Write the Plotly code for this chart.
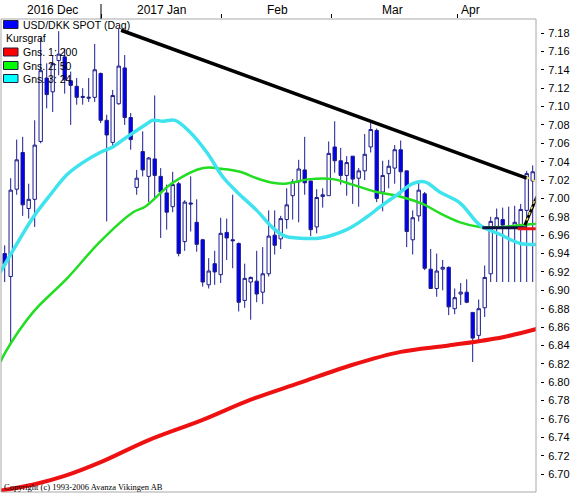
import plotly.graph_objects as go

# ---------------- data ----------------
idx = list(range(89))
opens = [6.940, 6.915, 7.010, 7.050, 6.989, 6.999, 7.062, 7.131, 7.116, 7.150,
         7.154, 7.128, 7.122, 7.111, 7.109, 7.110, 7.136, 7.085, 7.061, 7.103,
         7.142, 7.088, 7.012, 7.051, 7.024, 7.043, 7.024, 7.006, 6.991, 7.016,
         6.953, 6.995, 6.974, 6.955, 6.906, 6.929, 6.917, 6.963, 6.955, 6.951,
         6.889, 6.909, 6.910, 6.898, 6.918, 6.960, 6.956, 6.977, 7.003, 7.018,
         7.031, 7.019, 6.969, 7.002, 7.003, 7.056, 7.041, 7.025, 7.046, 7.022,
         7.030, 7.056, 7.074, 7.007, 7.027, 7.033, 7.053, 7.030, 6.955, 6.981,
         7.005, 6.923, 6.902, 6.923, 6.925, 6.880, 6.896, 6.898, 6.876, 6.851,
         6.881, 6.918, 6.969, 6.977, 6.970, 6.969, 6.969, 6.987, 7.019]
highs = [6.949, 7.022, 7.064, 7.067, 7.016, 7.085, 7.175, 7.147, 7.156, 7.182,
         7.163, 7.138, 7.131, 7.120, 7.131, 7.168, 7.137, 7.091, 7.118, 7.185,
         7.156, 7.093, 7.031, 7.073, 7.045, 7.112, 7.033, 7.015, 7.029, 7.018,
         6.998, 7.024, 6.999, 6.956, 6.935, 6.943, 6.979, 6.978, 7.004, 6.952,
         6.929, 6.915, 6.943, 6.947, 6.987, 6.987, 6.981, 7.011, 7.021, 7.042,
         7.067, 7.019, 7.010, 7.011, 7.062, 7.084, 7.055, 7.046, 7.046, 7.033,
         7.070, 7.084, 7.076, 7.041, 7.042, 7.058, 7.063, 7.030, 6.987, 7.018,
         7.007, 6.945, 6.940, 6.933, 6.926, 6.902, 6.908, 6.912, 6.876, 6.890,
         6.927, 6.980, 6.989, 6.990, 6.991, 6.992, 6.994, 7.030, 7.036]
lows = [6.909, 6.842, 7.004, 6.981, 6.978, 6.969, 7.060, 7.098, 7.094, 7.134,
        7.114, 7.080, 7.102, 7.102, 7.105, 7.105, 7.082, 6.975, 7.057, 7.102,
        7.080, 7.053, 7.004, 7.024, 6.996, 7.000, 6.957, 6.966, 6.985, 6.937,
        6.943, 6.964, 6.942, 6.904, 6.902, 6.906, 6.908, 6.933, 6.924, 6.877,
        6.881, 6.868, 6.887, 6.885, 6.915, 6.939, 6.945, 6.967, 6.977, 6.974,
        7.004, 6.959, 6.962, 6.990, 7.003, 7.028, 7.015, 7.003, 6.994, 6.991,
        7.020, 7.050, 6.996, 6.986, 7.011, 7.016, 7.004, 6.947, 6.939, 6.975,
        6.922, 6.902, 6.893, 6.900, 6.873, 6.874, 6.884, 6.886, 6.822, 6.844,
        6.871, 6.909, 6.909, 6.909, 6.909, 6.909, 6.909, 6.909, 6.909]
closes = [6.928, 7.009, 7.042, 6.993, 6.999, 7.058, 7.139, 7.113, 7.147, 7.157,
          7.129, 7.123, 7.110, 7.110, 7.110, 7.140, 7.085, 7.069, 7.112, 7.144,
          7.088, 7.064, 7.022, 7.031, 7.044, 7.025, 7.007, 6.985, 7.015, 6.940,
          6.996, 6.994, 6.950, 6.909, 6.921, 6.920, 6.962, 6.957, 6.954, 6.887,
          6.913, 6.914, 6.896, 6.918, 6.959, 6.949, 6.978, 6.993, 7.018, 7.032,
          7.017, 6.966, 7.001, 7.004, 7.049, 7.041, 7.025, 7.039, 7.021, 7.030,
          7.048, 7.075, 7.000, 7.025, 7.035, 7.053, 7.029, 6.964, 6.979, 7.009,
          6.924, 6.902, 6.921, 6.925, 6.882, 6.892, 6.898, 6.887, 6.848, 6.880,
          6.914, 6.975, 6.979, 6.971, 6.968, 6.974, 6.988, 7.027, 7.029]

ma200_x = [-0.8, 5, 10, 16, 24, 33, 41, 49, 58, 66, 74, 83, 88.7]
ma200_y = [6.682, 6.689, 6.698, 6.713, 6.737, 6.759, 6.781, 6.799, 6.819, 6.833, 6.840, 6.849, 6.858]

ma50_x = [-0.7, 0.05, 4.7, 10.4, 15.9, 21.4, 23.4, 28, 33.1, 36.4, 39.2, 42, 44.7, 46.7,
          50.9, 54.7, 58, 62, 65.4, 68, 70, 72.5, 75.9, 79.2, 83, 87.5, 88.7]
ma50_y = [6.822, 6.832, 6.876, 6.913, 6.953, 6.985, 6.991, 7.017, 7.033, 7.032, 7.029, 7.022, 7.017, 7.016,
          7.021, 7.021, 7.015, 7.007, 7.003, 6.998, 6.993, 6.984, 6.974, 6.969, 6.969, 6.972, 6.972]

ma24_x = [-0.8, 0.9, 4.7, 7.6, 10.4, 13, 15.9, 18, 20.4, 23.4, 24.7, 26.4, 28.4, 30.9, 33.7,
          36.4, 39.2, 42, 44.7, 46.7, 48.7, 52.6, 57, 60.4, 62.6, 65.4, 68, 70, 72.5, 75.9,
          79.2, 82.5, 85.9, 88.7]
ma24_y = [6.919, 6.938, 6.979, 7.004, 7.026, 7.039, 7.050, 7.056, 7.067, 7.080, 7.085, 7.084, 7.085, 7.072, 7.050,
          7.023, 7.004, 6.987, 6.968, 6.959, 6.957, 6.957, 6.966, 6.980, 6.991, 7.004, 7.016, 7.018, 7.007, 6.995,
          6.971, 6.961, 6.951, 6.950]

trend_x = [19.4, 87.0]
trend_y = [7.183, 7.022]

flat_x = [79.6, 87.0]
flat_y = [6.968, 6.968]
flat_red_x = [85.5, 88.7]
flat_red_y = [6.967, 6.967]
up_x = [86.7, 88.7]
up_y = [6.971, 7.002]
up_yel_x = [87.0, 88.4]
up_yel_y = [6.976, 6.999]
end_yel_x = [87.0, 88.7]
end_yel_y = [7.023, 7.018]

month_tick_idx = [16.05, 36.05, 54.4, 75.4]
month_label_idx = [7.9, 26.2, 45.4, 64.7, 77.7]
month_labels = ["2016 Dec", "2017 Jan", "Feb", "Mar", "Apr"]
y_ticks = [round(6.70 + 0.02 * k, 2) for k in range(25)]

legend_items = [("USD/DKK SPOT (Dag)", "#0000ff"), ("Kursgraf", None),
                ("Gns. 1: 200", "#ff0000"), ("Gns. 2: 50", "#00ff00"), ("Gns. 3: 24", "#00ffff")]

# ---------------- layout geometry ----------------
W, H = 572, 494
ML, MR, MT, MB = 1, 32, 19, 2
PLOT_R = 536
PW = W - ML - MR
PH = H - MT - MB
PX_PER_IDX = 6.0
x0 = -(4.7 - ML) / PX_PER_IDX
x1 = x0 + (PLOT_R - ML) / PX_PER_IDX
Y_PER = 919.0
ymax = 7.18 + (33 - MT) / Y_PER
ymin = ymax - PH / Y_PER


def px(xp):
    return (xp - ML) / PW


def py(yp):
    return (H - MB - yp) / PH


fig = go.Figure()
fig.add_trace(go.Candlestick(
    x=idx, open=opens, high=highs, low=lows, close=closes,
    increasing=dict(line=dict(color="#1c1c8e", width=1), fillcolor="#ffffff"),
    decreasing=dict(line=dict(color="#1c1c8e", width=1), fillcolor="#0000f0"),
    whiskerwidth=0, showlegend=False, hoverinfo="skip"))

fig.add_trace(go.Scatter(x=ma200_x, y=ma200_y, mode="lines", line=dict(color="#ee1111", width=4, shape="spline"),
                         showlegend=False, hoverinfo="skip"))
fig.add_trace(go.Scatter(x=ma50_x, y=ma50_y, mode="lines", line=dict(color="#22dd22", width=2.5, shape="spline"),
                         showlegend=False, hoverinfo="skip"))
fig.add_trace(go.Scatter(x=ma24_x, y=ma24_y, mode="lines", line=dict(color="#3fe3ee", width=3.5, shape="spline"),
                         showlegend=False, hoverinfo="skip"))
fig.add_trace(go.Scatter(x=trend_x, y=trend_y, mode="lines", line=dict(color="#000000", width=3.5),
                         showlegend=False, hoverinfo="skip"))
fig.add_trace(go.Scatter(x=flat_x, y=flat_y, mode="lines", line=dict(color="#101040", width=3),
                         showlegend=False, hoverinfo="skip"))
fig.add_trace(go.Scatter(x=flat_red_x, y=flat_red_y, mode="lines", line=dict(color="#ee1111", width=3),
                         showlegend=False, hoverinfo="skip"))
fig.add_trace(go.Scatter(x=up_x, y=up_y, mode="lines", line=dict(color="#000000", width=3),
                         showlegend=False, hoverinfo="skip"))
fig.add_trace(go.Scatter(x=up_yel_x, y=up_yel_y, mode="lines", line=dict(color="#f0e060", width=1.5, dash="dot"),
                         showlegend=False, hoverinfo="skip"))
fig.add_trace(go.Scatter(x=end_yel_x, y=end_yel_y, mode="lines", line=dict(color="#f0e060", width=1.5, dash="dot"),
                         showlegend=False, hoverinfo="skip"))

shapes = [
    dict(type="rect", xref="x domain", yref="y domain", x0=0, x1=1, y0=0, y1=1,
         line=dict(color="#a8a8a8", width=1), layer="above"),
    dict(type="line", xref="x", yref="paper", x0=month_tick_idx[0], x1=month_tick_idx[0],
         y0=py(4), y1=py(MT), line=dict(color="#000000", width=1)),
]
annotations = []
row_y = [24.5, 38, 52, 65.5, 78.5]
for (label, col), ry in zip(legend_items, row_y):
    if col is not None:
        shapes.append(dict(type="rect", xref="paper", yref="paper", x0=px(3.5), x1=px(18), y0=py(ry + 4),
                           y1=py(ry - 4), fillcolor=col, line=dict(color="#202040", width=1), layer="below"))
        tx = 20.5
    else:
        tx = 3.5
    annotations.append(dict(text=label, x=px(tx), y=py(ry), xref="paper", yref="paper", xanchor="left",
                            yanchor="middle", showarrow=False,
                            font=dict(family="Liberation Sans, Arial, sans-serif", size=10.5, color="#000000")))

for lab, li in zip(month_labels, month_label_idx):
    annotations.append(dict(text=lab, x=li, y=py(10), xref="x", yref="paper", xanchor="center",
                            yanchor="middle", showarrow=False,
                            font=dict(family="Liberation Sans, Arial, sans-serif", size=12, color="#000000")))

annotations.append(dict(text="Copyright (c) 1993-2006 Avanza Vikingen AB", x=px(2), y=py(486.5),
                        xref="paper", yref="paper", xanchor="left", yanchor="middle", showarrow=False,
                        font=dict(family="Liberation Serif, Times New Roman, serif", size=8.5, color="#000000")))

fig.update_layout(
    template="none",
    width=W, height=H,
    margin=dict(l=ML, r=MR, t=MT, b=MB, pad=0),
    paper_bgcolor="#ffffff", plot_bgcolor="#ffffff",
    showlegend=False,
    boxgap=0.2,
    shapes=shapes, annotations=annotations,
    xaxis=dict(domain=[0, (PLOT_R - ML) / PW], range=[x0, x1], side="top", showgrid=False, zeroline=False,
               showline=False, ticks="outside", ticklen=4, tickcolor="#000000", tickwidth=1,
               tickvals=month_tick_idx, showticklabels=False, rangeslider=dict(visible=False),
               automargin=False, fixedrange=True),
    yaxis=dict(range=[ymin, ymax], side="right", anchor="free", position=1.0, showgrid=False, zeroline=False,
               showline=False, ticks="outside", ticklen=3, tickcolor="#000000", tickwidth=1,
               tickvals=y_ticks, ticktext=[f"{v:.2f}" for v in y_ticks], automargin=False,
               tickfont=dict(family="Liberation Sans, Arial, sans-serif", size=11, color="#000000"),
               ticklabelstandoff=2, fixedrange=True),
)

fig.write_html("out.html", config={"displayModeBar": False},
               post_script="document.body.style.margin='0px';document.body.style.padding='0px';")
